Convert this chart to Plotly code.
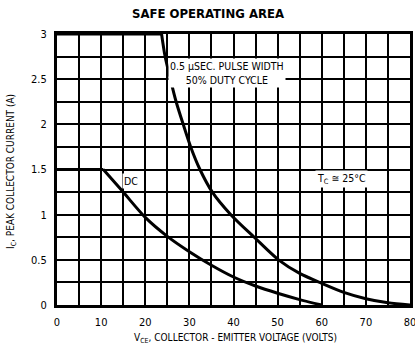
import plotly.graph_objects as go

pulse_v = [0, 23.7, 24.5, 25.7, 27.0, 28.6, 30.3, 32.4, 35.2, 39.4, 44.7, 50.2, 55.0, 60.0, 65.0, 70.0, 75.0, 80.0]
pulse_i = [3.0, 3.0, 2.75, 2.5, 2.25, 2.0, 1.75, 1.5, 1.25, 1.0, 0.75, 0.5, 0.35, 0.24, 0.14, 0.07, 0.025, 0.0]

dc_v = [0, 10.5, 15, 20, 25, 30, 35, 40, 45, 50, 55, 60]
dc_i = [1.5, 1.5, 1.25, 0.97, 0.76, 0.59, 0.44, 0.31, 0.21, 0.13, 0.06, 0.0]

x_ticks = [0, 10, 20, 30, 40, 50, 60, 70, 80]
y_ticks = [0, 0.5, 1, 1.5, 2, 2.5, 3]
y_tick_text = ["0", "0.5", "1", "1.5", "2", "2.5", "3"]

FONT = "Liberation Sans Narrow, DejaVu Sans Condensed, Arial Narrow, sans-serif"

W, H = 415, 347
L, R, T, B = 57, 5, 34, 42
pw = W - L - R
ph = H - T - B


def px_x(px):
    return (px - L) / pw


def px_y(py):
    return (H - B - py) / ph


fig = go.Figure()
line_style = dict(color="black", width=3)
# flat parts (straight) + curved parts (spline)
fig.add_trace(go.Scatter(x=pulse_v[:2], y=pulse_i[:2], mode="lines", line=line_style,
                         showlegend=False, hoverinfo="skip"))
fig.add_trace(go.Scatter(x=pulse_v[1:], y=pulse_i[1:], mode="lines",
                         line=dict(**line_style, shape="spline", smoothing=0.8),
                         showlegend=False, hoverinfo="skip"))
fig.add_trace(go.Scatter(x=dc_v[:2], y=dc_i[:2], mode="lines", line=line_style,
                         showlegend=False, hoverinfo="skip"))
fig.add_trace(go.Scatter(x=dc_v[1:], y=dc_i[1:], mode="lines",
                         line=dict(**line_style, shape="spline", smoothing=0.8),
                         showlegend=False, hoverinfo="skip"))

axis_common = dict(showline=True, linecolor="black", linewidth=3, mirror=True,
                   showgrid=True, gridcolor="black", gridwidth=1.5, zeroline=False,
                   ticks="outside", tickcolor="rgba(0,0,0,0)", ticklen=5,
                   tickfont=dict(family=FONT, size=11, color="black"),
                   ticklabeloverflow="allow",
                   automargin=False, fixedrange=True)

fig.update_xaxes(range=[0, 80], tickvals=x_ticks,
                 minor=dict(dtick=5, tick0=0, showgrid=True, gridcolor="black", gridwidth=1.5),
                 **axis_common)
fig.update_yaxes(range=[0, 3], tickvals=y_ticks, ticktext=y_tick_text,
                 minor=dict(dtick=0.25, tick0=0, showgrid=True, gridcolor="black", gridwidth=1.5),
                 **axis_common)

ann_font = dict(family=FONT, size=10.5, color="black")
fig.add_annotation(x=38.5, y=2.57, text="0.5 μSEC. PULSE WIDTH<br>50% DUTY CYCLE",
                   showarrow=False, font=ann_font, bgcolor="white", borderpad=1,
                   xanchor="center")
fig.add_annotation(x=16.8, y=1.37, text="DC", showarrow=False, font=ann_font,
                   bgcolor="white", borderpad=1)
fig.add_annotation(x=64.5, y=1.39, text="T<sub>C</sub> ≅ 25°C", showarrow=False,
                   font=ann_font, bgcolor="white", borderpad=1)

fig.add_annotation(xref="paper", yref="paper", x=px_x(236), y=px_y(338),
                   xanchor="center", yanchor="middle",
                   text="V<sub>CE</sub>, COLLECTOR - EMITTER VOLTAGE (VOLTS)",
                   showarrow=False, font=dict(family=FONT, size=10, color="black"))
fig.add_annotation(xref="paper", yref="paper", x=px_x(11), y=px_y(172),
                   xanchor="center", yanchor="middle",
                   text="I<sub>C</sub>, PEAK COLLECTOR CURRENT (A)", textangle=-90,
                   showarrow=False, font=dict(family=FONT, size=10, color="black"))

fig.update_layout(
    width=W, height=H,
    margin=dict(l=L, r=R, t=T, b=B),
    paper_bgcolor="white", plot_bgcolor="white",
    title=dict(text="<b>SAFE OPERATING AREA</b>", x=208 / W, xanchor="center",
               y=1 - 13 / H, yanchor="middle",
               font=dict(family=FONT, size=13, color="black")),
)

fig.write_html("out.html", config={"displayModeBar": False},
               post_script="document.body.style.margin='0';document.body.style.overflow='hidden';")
